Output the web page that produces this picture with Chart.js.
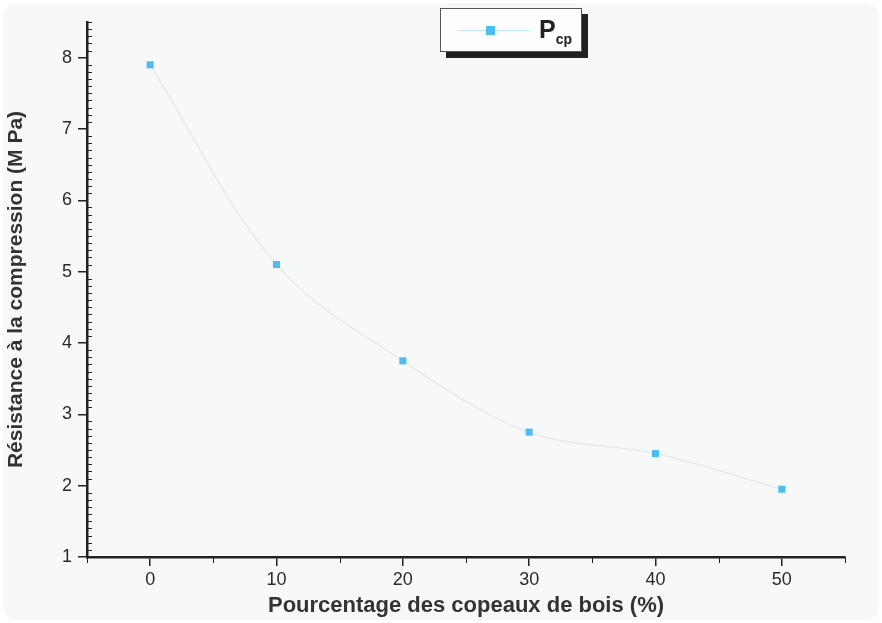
<!DOCTYPE html>
<html>
<head>
<meta charset="utf-8">
<script src="https://cdn.jsdelivr.net/npm/chart.js@4.4.1/dist/chart.umd.min.js"></script>
<style>
  html, body { margin: 0; padding: 0; background: #fff; }
  #wrap { position: relative; width: 882px; height: 623px; }
  #bg { position: absolute; left: 3px; top: 3px; right: 3px; bottom: 3px; background: #f7f8f8; border-radius: 14px; }
  canvas { position: absolute; left: 0; top: 0; }
  #legend {
    position: absolute; left: 440px; top: 8px; width: 140px; height: 42px;
    background: #fdfdfd; border: 1px solid #555;
    box-shadow: 6px 6px 0 #222;
    font-family: "Liberation Sans", Arial, sans-serif; color: #222;
  }
  #legend .ln { position: absolute; left: 16px; top: 21px; width: 72px; height: 1px; background: #bfe6f5; }
  #legend .mk { position: absolute; left: 45px; top: 17px; width: 9px; height: 9px; background: #4dbdf0; }
  #legend .tx { position: absolute; left: 98px; top: 6px; font-size: 25px; font-weight: bold; }
  #legend .tx sub { font-size: 14px; vertical-align: -6px; }
</style>
</head>
<body>
<div id="wrap">
  <div id="bg"></div>
  <canvas id="c" width="882" height="623"></canvas>
  <div id="legend"><div class="ln"></div><div class="mk"></div><div class="tx">P<sub>cp</sub></div></div>
</div>
<script>
// values
const pourcentage = [0, 10, 20, 30, 40, 50];
const resistance = [7.9, 5.1, 3.75, 2.75, 2.45, 1.95];
const xTicks = [0, 10, 20, 30, 40, 50];
const yTicks = [1, 2, 3, 4, 5, 6, 7, 8];

const FONT = "'Liberation Sans', Arial, sans-serif";

// small ticks between the labelled ones
const minorTicks = {
  id: 'minorTicks',
  afterDraw(chart) {
    const ctx = chart.ctx;
    const x = chart.scales.x, y = chart.scales.y;
    ctx.save();
    ctx.strokeStyle = '#222';
    ctx.lineWidth = 1;
    ctx.beginPath();
    for (let i = 11; i <= 85; i++) {
      if (i % 10 === 0) continue;
      const py = Math.round(y.getPixelForValue(i / 10)) + 0.5;
      ctx.moveTo(x.left - 1, py);
      ctx.lineTo(x.left + 5, py);
    }
    for (let v = -5; v <= 55; v += 10) {
      const px = Math.round(x.getPixelForValue(v)) + 0.5;
      ctx.moveTo(px, y.bottom);
      ctx.lineTo(px, y.bottom + 6);
    }
    ctx.stroke();
    ctx.restore();
  }
};

new Chart(document.getElementById('c'), {
  type: 'line',
  data: {
    datasets: [{
      label: 'Pcp',
      data: pourcentage.map((p, i) => ({ x: p, y: resistance[i] })),
      borderColor: '#e6eaec',
      borderWidth: 1.5,
      tension: 0.35,
      pointStyle: 'rect',
      pointRadius: 5,
      pointBackgroundColor: '#4dbdf0',
      pointBorderColor: '#4dbdf0',
      pointBorderWidth: 0
    }]
  },
  options: {
    responsive: false,
    animation: false,
    layout: { padding: { left: 0, right: 37, top: 22, bottom: 0 } },
    plugins: { legend: { display: false }, tooltip: { enabled: false } },
    scales: {
      x: {
        type: 'linear', min: -5, max: 55,
        afterBuildTicks: s => { s.ticks = xTicks.map(v => ({ value: v })); },
        afterFit: s => { s.height = 66; },
        grid: { drawOnChartArea: false, drawTicks: true, tickLength: 9, color: '#222', lineWidth: 1.5 },
        border: { display: true, color: '#222', width: 2.5 },
        ticks: { color: '#2a2a2a', font: { family: FONT, size: 18 }, padding: 3 },
        title: { display: true, text: 'Pourcentage des copeaux de bois (%)', color: '#333',
                 font: { family: FONT, size: 22, weight: 'bold' }, padding: { top: 2 } }
      },
      y: {
        type: 'linear', min: 1, max: 8.5,
        afterBuildTicks: s => { s.ticks = yTicks.map(v => ({ value: v })); },
        afterFit: s => { s.width = 87; },
        grid: { drawOnChartArea: false, drawTicks: true, tickLength: 9, color: '#222', lineWidth: 1.5 },
        border: { display: true, color: '#222', width: 2.5 },
        ticks: { color: '#2a2a2a', font: { family: FONT, size: 18 }, padding: 6 },
        title: { display: true, text: 'Résistance à la compression (M Pa)', color: '#333',
                 font: { family: FONT, size: 21, weight: 'bold' }, padding: { bottom: 4 } }
      }
    }
  },
  plugins: [minorTicks]
});
</script>
</body>
</html>
